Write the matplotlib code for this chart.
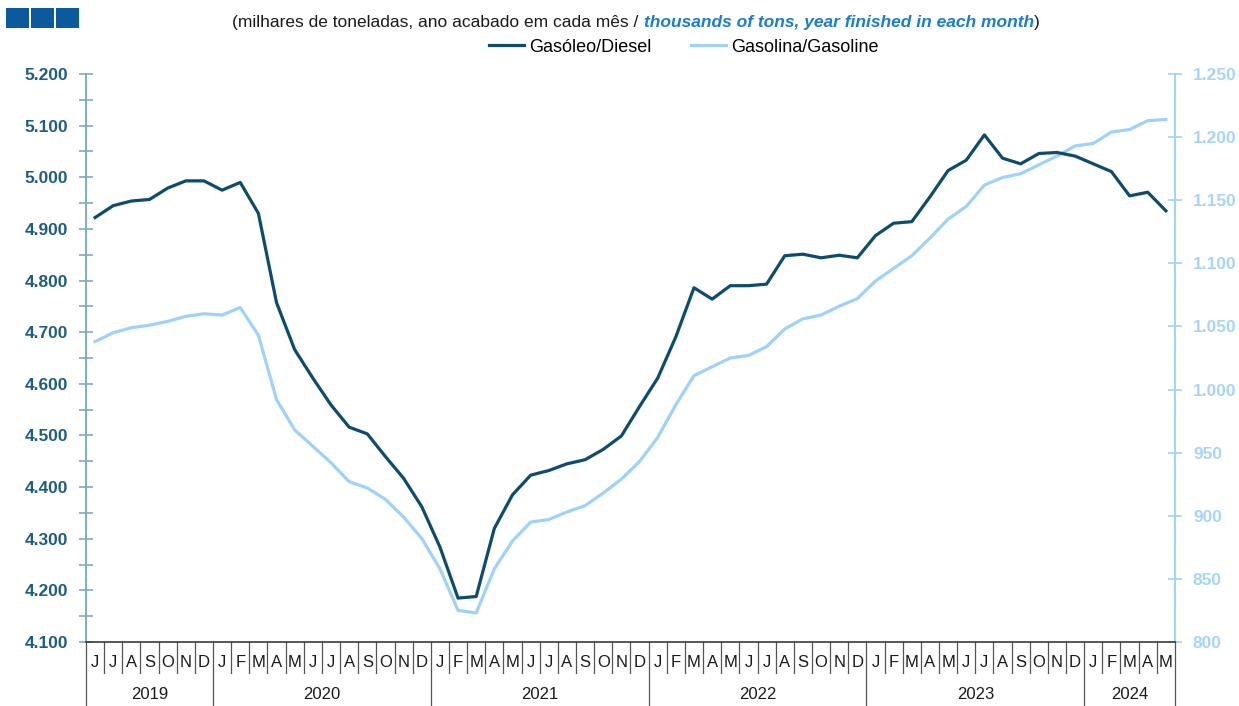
import matplotlib
matplotlib.use("Agg")
import matplotlib.pyplot as plt
from matplotlib.patches import Rectangle
from matplotlib.ticker import MultipleLocator, FuncFormatter
import matplotlib.transforms as mtransforms

plt.rcParams['font.family'] = ['Liberation Sans', 'DejaVu Sans']

# monthly points, Jun 2019 .. May 2024
months = (['J', 'J', 'A', 'S', 'O', 'N', 'D']
          + ['J', 'F', 'M', 'A', 'M', 'J', 'J', 'A', 'S', 'O', 'N', 'D'] * 4
          + ['J', 'F', 'M', 'A', 'M'])
years = ['2019', '2020', '2021', '2022', '2023', '2024']
months_per_year = [7, 12, 12, 12, 12, 5]

diesel = [4922, 4945, 4954, 4957, 4979, 4993, 4993, 4975, 4990, 4930,
          4757, 4666, 4611, 4559, 4516, 4503, 4459, 4417, 4362, 4284,
          4185, 4188, 4320, 4385, 4423, 4432, 4445, 4453, 4473, 4499,
          4556, 4611, 4691, 4786, 4764, 4790, 4790, 4793, 4848, 4851,
          4844, 4849, 4844, 4887, 4911, 4914, 4962, 5013, 5033, 5082,
          5037, 5026, 5046, 5048, 5041, 5026, 5011, 4964, 4971, 4935]

gasoline = [1038, 1045, 1049, 1051, 1054, 1058, 1060, 1059, 1065, 1043,
            992, 968, 955, 942, 927, 922, 913, 899, 882, 858,
            825, 823, 858, 880, 895, 897, 903, 908, 918, 929,
            943, 962, 988, 1011, 1018, 1025, 1027, 1034, 1048, 1056,
            1059, 1066, 1072, 1086, 1096, 1106, 1120, 1135, 1145, 1162,
            1168, 1171, 1178, 1185, 1193, 1195, 1204, 1206, 1213, 1214]

DIESEL_C = '#0d4c6c'
GASOL_C = '#9fd2fb'
LEFT_LBL = '#1f5c82'
LEFT_SPINE = '#80aac4'
RIGHT_LBL = '#a6d4fb'

fig = plt.figure(figsize=(12.39, 7.06), dpi=100)
ax = fig.add_axes([0.0694, 0.0907, 0.8789, 0.8045])
ax2 = ax.twinx()

x = list(range(len(diesel)))
l1, = ax.plot(x, diesel, color=DIESEL_C, lw=2.3, label='Gasóleo/Diesel', zorder=3)
l2, = ax2.plot(x, gasoline, color=GASOL_C, lw=2.3, label='Gasolina/Gasoline', zorder=2)
ax.set_zorder(ax2.get_zorder() + 1)
ax.patch.set_visible(False)

ax.set_xlim(-0.5, len(x) - 0.5)
ax.set_ylim(4100, 5200)
ax2.set_ylim(800, 1250)

fmt = FuncFormatter(lambda v, p: f"{v:,.0f}".replace(',', '.'))
ax.yaxis.set_major_locator(MultipleLocator(100))
ax.yaxis.set_minor_locator(MultipleLocator(50))
ax.yaxis.set_major_formatter(fmt)
ax2.yaxis.set_major_locator(MultipleLocator(50))
ax2.yaxis.set_major_formatter(fmt)

ax.tick_params(axis='y', which='both', direction='inout', length=10, width=1.2,
               color=LEFT_SPINE, labelcolor=LEFT_LBL, labelsize=12.5, pad=8)
ax2.tick_params(axis='y', which='both', direction='inout', length=10, width=1.2,
                color=GASOL_C, labelcolor=RIGHT_LBL, labelsize=12.5, pad=8)
for lbl in ax.get_yticklabels() + ax2.get_yticklabels():
    lbl.set_fontweight('bold')

ax.set_xticks([])
for a in (ax, ax2):
    a.spines['top'].set_visible(False)
ax.spines['right'].set_visible(False)
ax2.spines['left'].set_visible(False)
ax2.spines['bottom'].set_visible(False)
ax.spines['left'].set_color(LEFT_SPINE)
ax.spines['left'].set_linewidth(1.4)
ax2.spines['right'].set_color(GASOL_C)
ax2.spines['right'].set_linewidth(1.4)
ax.spines['bottom'].set_color('#3a3a3a')
ax.spines['bottom'].set_linewidth(1.2)

# category axis: month letters, cell dividers and year groups
trans = mtransforms.blended_transform_factory(ax.transData, ax.transAxes)
px = 1.0 / (0.8045 * 706)
year_starts = [0]
for n in months_per_year:
    year_starts.append(year_starts[-1] + n)
for i, m in enumerate(months):
    ax.text(i, -21 * px, m, transform=trans, ha='center', va='center',
            fontsize=12, color='#1a1a1a')
for i in range(len(months) + 1):
    depth = 63 if i in year_starts else 31
    ax.plot([i - 0.5, i - 0.5], [0, -depth * px], transform=trans,
            color='#555555', lw=0.9, clip_on=False)
for yr, s, n in zip(years, year_starts[:-1], months_per_year):
    ax.text(s + n / 2 - 0.5, -53 * px, yr, transform=trans, ha='center',
            va='center', fontsize=12, color='#1a1a1a')

# logo squares
for k in range(3):
    fig.add_artist(Rectangle(((6 + 25 * k) / 1239, 1 - 28 / 706), 23 / 1239, 20 / 706,
                             transform=fig.transFigure, color='#0b5a9e', lw=0))

# subtitle with mixed styles
parts = [('(milhares de toneladas, ano acabado em cada mês / ', '#1a1a1a', 'normal', 'normal'),
         ('thousands of tons, year finished in each month', '#1b7cd0', 'bold', 'italic'),
         (')', '#1a1a1a', 'normal', 'normal')]
renderer = fig.canvas.get_renderer()
texts = []
total = 0
for s, c, w, st in parts:
    t = fig.text(0, 1 - 22 / 706, s, color=c, fontweight=w, style=st,
                 fontsize=12.5, ha='left', va='center')
    bb = t.get_window_extent(renderer)
    texts.append((t, bb.width))
    total += bb.width
xpos = 636 - total / 2
for t, w in texts:
    t.set_x(xpos / 1239)
    xpos += w

fig.legend(handles=[l1, l2], loc='center', bbox_to_anchor=(684 / 1239, 1 - 47 / 706),
           ncol=2, frameon=False, fontsize=13, handlelength=1.9, handletextpad=0.3,
           columnspacing=2.2)

fig.savefig('out.png', dpi=100)
